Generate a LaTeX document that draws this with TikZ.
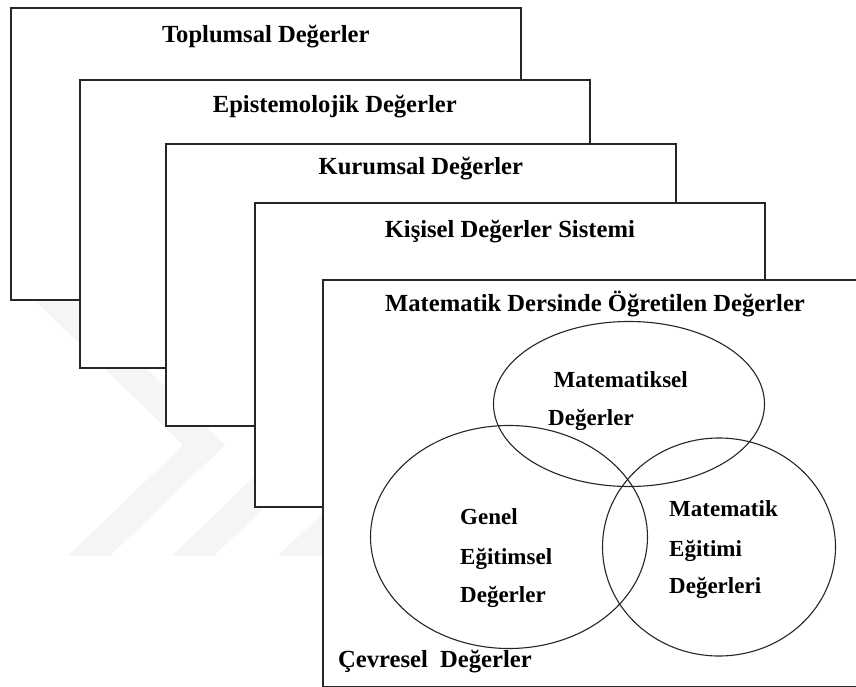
\documentclass[tikz,border=0pt]{standalone}
\usepackage{fontspec}
\setmainfont{Liberation Serif}
\usetikzlibrary{shapes.geometric}

\tikzset{
  panel/.style={draw=black!85, line width=1.6pt, fill=white, anchor=north west,
    inner sep=0pt, minimum width=510pt},
  heading/.style={font=\bfseries\fontsize{24.6}{28}\selectfont, anchor=base, inner sep=0pt},
  ring/.style={ellipse, draw=black!85, line width=1.1pt, inner sep=0pt},
  inlabel/.style={font=\bfseries\fontsize{23}{26}\selectfont, anchor=base west, inner sep=0pt},
  chevron/.style={fill=gray!8}
}

\begin{document}
\begin{tikzpicture}[x=1pt,y=-1pt]
\useasboundingbox (0,0) rectangle (856,687);

% faint watermark behind the layers
\foreach \dx in {0,104,210}
  \fill[chevron] (13+\dx,279) -- (183+\dx,445) -- (68+\dx,556) -- (110+\dx,556)
    -- (225+\dx,445) -- (55+\dx,279) -- cycle;

% stacked layers
\foreach \l/\t/\h/\name in {10/7/292pt/toplumsal, 79/79/288pt/epistemik,
    165/143/282pt/kurumsal, 254/202/304pt/kisisel}
  \node[panel, minimum height=\h] (\name) at (\l,\t) {};
\node[panel, minimum width=540pt, minimum height=407pt] (matders) at (322,279) {};

\node[heading] (toplumsalText) at ([yshift=-36pt]toplumsal.north) {Toplumsal Değerler};
\node[heading] (epistemikText) at ([yshift=-34pt]epistemik.north) {Epistemolojik Değerler};
\node[heading] (kurumsalText) at ([yshift=-32pt]kurumsal.north) {Kurumsal Değerler};
\node[heading] (kisiselText) at ([yshift=-35pt]kisisel.north) {Kişisel Değerler Sistemi};
\node[heading] (matdersText) at (595,311) {Matematik Dersinde Öğretilen Değerler};

% three overlapping sets
\node[ring, minimum width=271pt, minimum height=165pt] (matsel) at (629,404) {};
\node[ring, minimum width=277pt, minimum height=223pt] (genel) at (509,537) {};
\node[ring, minimum width=233pt, minimum height=218pt] (mategitim) at (719,547) {};

\node[inlabel] (matselA) at (553.5,387) {Matematiksel};
\node[inlabel] (matselB) at (548,425) {Değerler};
\node[inlabel] (genelA) at (460,524) {Genel};
\node[inlabel] (genelB) at (460,564) {Eğitimsel};
\node[inlabel] (genelC) at (460,602) {Değerler};
\node[inlabel] (mategitimA) at (669,516) {Matematik};
\node[inlabel] (mategitimB) at (669,556) {Eğitimi};
\node[inlabel] (mategitimC) at (669,593) {Değerleri};
\node[heading, anchor=base west] (cevresel) at (338,667) {Çevresel~~Değerler};
\end{tikzpicture}
\end{document}
